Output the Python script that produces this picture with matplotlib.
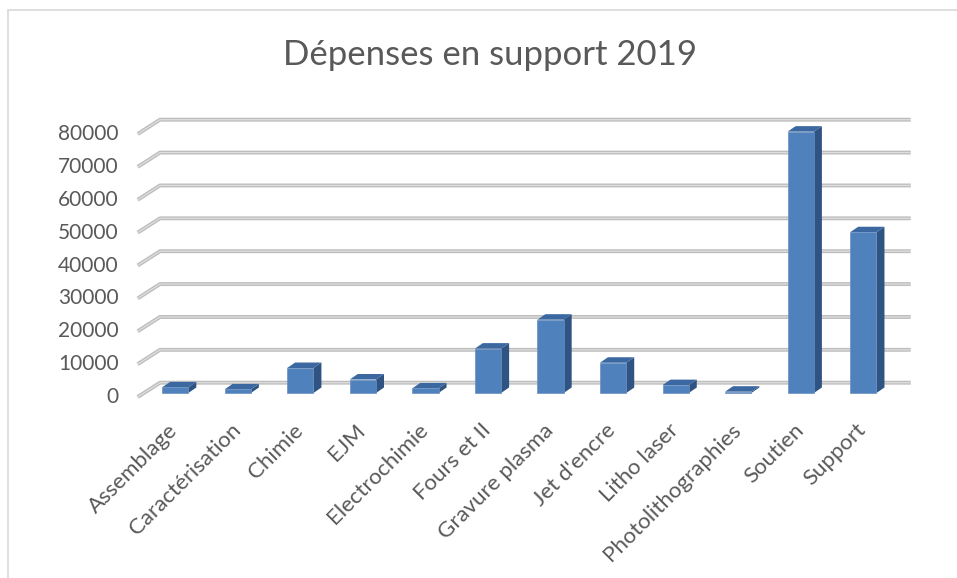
import matplotlib
matplotlib.use("Agg")
import matplotlib.pyplot as plt
from matplotlib.patches import Polygon, Rectangle

categories = ["Assemblage", "Caractérisation", "Chimie", "EJM", "Electrochimie",
              "Fours et II", "Gravure plasma", "Jet d'encre", "Litho laser",
              "Photolithographies", "Soutien", "Support"]
values = [1700, 1100, 7600, 4100, 1400, 13500, 22300, 9200, 2400, 400, 79500, 48900]
yticks = [0, 10000, 20000, 30000, 40000, 50000, 60000, 70000, 80000]
title = "Dépenses en support 2019"

plt.rcParams["font.family"] = ["Lato", "DejaVu Sans"]

W, H = 957, 578
fig = plt.figure(figsize=(W / 100, H / 100), dpi=100)

# outer border
fig.patches.append(Rectangle((8 / W, -0.01), 1.1, (H - 10) / H + 0.01, transform=fig.transFigure,
                             fill=False, edgecolor="#d9d9d9", lw=1.2))

# front plane
x0, x1 = 137.7, 888.4
y0, y1 = 397, 134
ax = fig.add_axes([x0 / W, (H - y0) / H, (x1 - x0) / W, (y0 - y1) / H])
n = len(categories)
ax.set_xlim(-0.5, n - 0.5)
ax.set_ylim(0, 80000)
ax.axis("off")

# depth in data units
px_x = n / (x1 - x0)
px_y = 80000 / (y0 - y1)
dx_full, dy_full = 22.3 * px_x, 14.3 * px_y

# gridlines (floor/back wall)
for v in yticks:
    xs = [-0.5, -0.5 + dx_full, n - 0.5 + dx_full]
    ys = [v, v + dy_full, v + dy_full]
    ax.plot(xs, ys, color="#bdbdbd", lw=2.8, solid_capstyle="butt", clip_on=False, zorder=1)
    ax.plot(xs, ys, color="#dedede", lw=0.9, solid_capstyle="butt", clip_on=False, zorder=1.1)
    ax.text(-0.5 - 19 * px_x, v, str(v), ha="right", va="center", fontsize=15,
            color="#595959")

# bars
fx = 6.2 * px_x                  # front face offset
bx, by = 8.0 * px_x, 5.5 * px_y  # bar depth
bw = 0.42
front_c = "#4f81bd"
side_c = "#2f5382"
top_c = "#3b68a0"
base = (397 - 393) * px_y
for i, v in enumerate(values):
    l = i - bw / 2 + fx
    r = i + bw / 2 + fx
    t = base + v
    ax.add_patch(Polygon([(r, base), (r + bx, base + by), (r + bx, t + by), (r, t)],
                         closed=True, facecolor=side_c, edgecolor="none", zorder=3, clip_on=False))
    ax.add_patch(Polygon([(l, t), (r, t), (r + bx, t + by), (l + bx, t + by)],
                         closed=True, facecolor=top_c, edgecolor="none", zorder=3, clip_on=False))
    ax.add_patch(Rectangle((l, base), r - l, v, facecolor=front_c, edgecolor="#6b8fbf",
                           lw=0.5, zorder=4, clip_on=False))

# category labels
for i, c in enumerate(categories):
    ax.text(i - 0.02, -7000, c, rotation=45, rotation_mode="anchor", ha="right", va="top",
            fontsize=16, color="#595959")

fig.text(490 / W, (H - 55) / H, title, ha="center", va="center", fontsize=25, color="#595959")

fig.savefig("out.png", dpi=100, facecolor="white")
